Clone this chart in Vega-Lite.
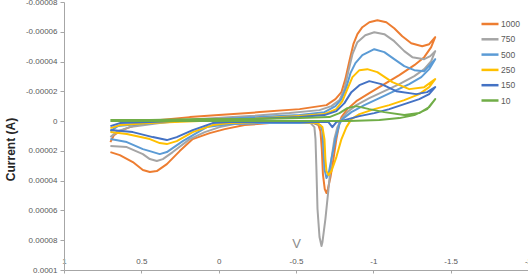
{
  "$schema": "https://vega.github.io/schema/vega-lite/v6.json",
  "width": 464,
  "height": 268,
  "autosize": {"type": "none"},
  "padding": {"left": 64, "top": 2, "right": 0, "bottom": 10},
  "background": "white",
  "config": {"view": {"stroke": null}, "font": "Liberation Sans"},
  "data": {"values": [
    {"s":"1000","i":1,"E":0.7,"I":1.409e-5},
    {"s":"1000","i":2,"E":0.677,"I":9.40e-6},
    {"s":"1000","i":3,"E":0.639,"I":6.71e-6},
    {"s":"1000","i":4,"E":0.574,"I":4.03e-6},
    {"s":"1000","i":5,"E":0.445,"I":0},
    {"s":"1000","i":6,"E":0.187,"I":-2.68e-6},
    {"s":"1000","i":7,"E":0,"I":-4.03e-6},
    {"s":"1000","i":8,"E":-0.265,"I":-6.04e-6},
    {"s":"1000","i":9,"E":-0.523,"I":-8.05e-6},
    {"s":"1000","i":10,"E":-0.697,"I":-1.074e-5},
    {"s":"1000","i":11,"E":-0.755,"I":-1.476e-5},
    {"s":"1000","i":12,"E":-0.794,"I":-1.946e-5},
    {"s":"1000","i":13,"E":-0.819,"I":-2.819e-5},
    {"s":"1000","i":14,"E":-0.845,"I":-4.027e-5},
    {"s":"1000","i":15,"E":-0.871,"I":-5.167e-5},
    {"s":"1000","i":16,"E":-0.897,"I":-5.839e-5},
    {"s":"1000","i":17,"E":-0.929,"I":-6.308e-5},
    {"s":"1000","i":18,"E":-0.974,"I":-6.644e-5},
    {"s":"1000","i":19,"E":-1.026,"I":-6.778e-5},
    {"s":"1000","i":20,"E":-1.084,"I":-6.644e-5},
    {"s":"1000","i":21,"E":-1.135,"I":-6.241e-5},
    {"s":"1000","i":22,"E":-1.187,"I":-5.704e-5},
    {"s":"1000","i":23,"E":-1.245,"I":-5.235e-5},
    {"s":"1000","i":24,"E":-1.316,"I":-5.033e-5},
    {"s":"1000","i":25,"E":-1.361,"I":-5.167e-5},
    {"s":"1000","i":26,"E":-1.4,"I":-5.637e-5},
    {"s":"1000","i":27,"E":-1.374,"I":-4.966e-5},
    {"s":"1000","i":28,"E":-1.329,"I":-4.295e-5},
    {"s":"1000","i":29,"E":-1.265,"I":-3.758e-5},
    {"s":"1000","i":30,"E":-1.168,"I":-3.087e-5},
    {"s":"1000","i":31,"E":-1.071,"I":-2.483e-5},
    {"s":"1000","i":32,"E":-0.974,"I":-1.879e-5},
    {"s":"1000","i":33,"E":-0.890,"I":-1.342e-5},
    {"s":"1000","i":34,"E":-0.832,"I":-8.05e-6},
    {"s":"1000","i":35,"E":-0.794,"I":-2.68e-6},
    {"s":"1000","i":36,"E":-0.781,"I":1.34e-6},
    {"s":"1000","i":37,"E":-0.761,"I":1.208e-5},
    {"s":"1000","i":38,"E":-0.742,"I":2.550e-5},
    {"s":"1000","i":39,"E":-0.723,"I":3.758e-5},
    {"s":"1000","i":40,"E":-0.706,"I":4.564e-5},
    {"s":"1000","i":41,"E":-0.697,"I":4.832e-5},
    {"s":"1000","i":42,"E":-0.686,"I":4.564e-5},
    {"s":"1000","i":43,"E":-0.674,"I":3.557e-5},
    {"s":"1000","i":44,"E":-0.667,"I":1.879e-5},
    {"s":"1000","i":45,"E":-0.658,"I":6.71e-6},
    {"s":"1000","i":46,"E":-0.645,"I":2.68e-6},
    {"s":"1000","i":47,"E":-0.613,"I":1.34e-6},
    {"s":"1000","i":48,"E":-0.523,"I":1.34e-6},
    {"s":"1000","i":49,"E":-0.329,"I":1.34e-6},
    {"s":"1000","i":50,"E":-0.168,"I":2.68e-6},
    {"s":"1000","i":51,"E":-0.039,"I":5.37e-6},
    {"s":"1000","i":52,"E":0.058,"I":8.05e-6},
    {"s":"1000","i":53,"E":0.168,"I":1.208e-5},
    {"s":"1000","i":54,"E":0.252,"I":2.013e-5},
    {"s":"1000","i":55,"E":0.335,"I":2.886e-5},
    {"s":"1000","i":56,"E":0.400,"I":3.356e-5},
    {"s":"1000","i":57,"E":0.445,"I":3.423e-5},
    {"s":"1000","i":58,"E":0.490,"I":3.288e-5},
    {"s":"1000","i":59,"E":0.555,"I":2.752e-5},
    {"s":"1000","i":60,"E":0.639,"I":2.282e-5},
    {"s":"1000","i":61,"E":0.7,"I":2.080e-5},

    {"s":"750","i":1,"E":0.7,"I":1.074e-5},
    {"s":"750","i":2,"E":0.652,"I":6.71e-6},
    {"s":"750","i":3,"E":0.574,"I":4.03e-6},
    {"s":"750","i":4,"E":0.381,"I":1.34e-6},
    {"s":"750","i":5,"E":0.123,"I":-1.34e-6},
    {"s":"750","i":6,"E":-0.200,"I":-3.36e-6},
    {"s":"750","i":7,"E":-0.458,"I":-5.37e-6},
    {"s":"750","i":8,"E":-0.652,"I":-7.38e-6},
    {"s":"750","i":9,"E":-0.729,"I":-1.007e-5},
    {"s":"750","i":10,"E":-0.781,"I":-1.409e-5},
    {"s":"750","i":11,"E":-0.813,"I":-2.148e-5},
    {"s":"750","i":12,"E":-0.839,"I":-3.356e-5},
    {"s":"750","i":13,"E":-0.865,"I":-4.496e-5},
    {"s":"750","i":14,"E":-0.897,"I":-5.302e-5},
    {"s":"750","i":15,"E":-0.948,"I":-5.771e-5},
    {"s":"750","i":16,"E":-1.006,"I":-5.973e-5},
    {"s":"750","i":17,"E":-1.071,"I":-5.839e-5},
    {"s":"750","i":18,"E":-1.135,"I":-5.369e-5},
    {"s":"750","i":19,"E":-1.200,"I":-4.698e-5},
    {"s":"750","i":20,"E":-1.252,"I":-4.295e-5},
    {"s":"750","i":21,"E":-1.329,"I":-4.161e-5},
    {"s":"750","i":22,"E":-1.368,"I":-4.362e-5},
    {"s":"750","i":23,"E":-1.4,"I":-4.698e-5},
    {"s":"750","i":24,"E":-1.374,"I":-4.027e-5},
    {"s":"750","i":25,"E":-1.329,"I":-3.490e-5},
    {"s":"750","i":26,"E":-1.265,"I":-3.020e-5},
    {"s":"750","i":27,"E":-1.168,"I":-2.483e-5},
    {"s":"750","i":28,"E":-1.071,"I":-2.013e-5},
    {"s":"750","i":29,"E":-0.974,"I":-1.544e-5},
    {"s":"750","i":30,"E":-0.890,"I":-1.074e-5},
    {"s":"750","i":31,"E":-0.832,"I":-6.04e-6},
    {"s":"750","i":32,"E":-0.794,"I":-1.34e-6},
    {"s":"750","i":33,"E":-0.768,"I":4.03e-6},
    {"s":"750","i":34,"E":-0.748,"I":1.208e-5},
    {"s":"750","i":35,"E":-0.729,"I":2.550e-5},
    {"s":"750","i":36,"E":-0.710,"I":4.564e-5},
    {"s":"750","i":37,"E":-0.690,"I":6.577e-5},
    {"s":"750","i":38,"E":-0.671,"I":8.120e-5},
    {"s":"750","i":39,"E":-0.665,"I":8.389e-5},
    {"s":"750","i":40,"E":-0.652,"I":7.785e-5},
    {"s":"750","i":41,"E":-0.639,"I":5.906e-5},
    {"s":"750","i":42,"E":-0.632,"I":3.221e-5},
    {"s":"750","i":43,"E":-0.626,"I":1.208e-5},
    {"s":"750","i":44,"E":-0.619,"I":4.03e-6},
    {"s":"750","i":45,"E":-0.594,"I":1.34e-6},
    {"s":"750","i":46,"E":-0.458,"I":1.34e-6},
    {"s":"750","i":47,"E":-0.265,"I":1.34e-6},
    {"s":"750","i":48,"E":-0.103,"I":2.01e-6},
    {"s":"750","i":49,"E":-0.006,"I":4.03e-6},
    {"s":"750","i":50,"E":0.090,"I":7.38e-6},
    {"s":"750","i":51,"E":0.187,"I":1.208e-5},
    {"s":"750","i":52,"E":0.297,"I":2.080e-5},
    {"s":"750","i":53,"E":0.361,"I":2.550e-5},
    {"s":"750","i":54,"E":0.400,"I":2.684e-5},
    {"s":"750","i":55,"E":0.445,"I":2.550e-5},
    {"s":"750","i":56,"E":0.490,"I":2.215e-5},
    {"s":"750","i":57,"E":0.594,"I":1.745e-5},
    {"s":"750","i":58,"E":0.7,"I":1.678e-5},

    {"s":"500","i":1,"E":0.7,"I":6.71e-6},
    {"s":"500","i":2,"E":0.652,"I":3.36e-6},
    {"s":"500","i":3,"E":0.510,"I":2.01e-6},
    {"s":"500","i":4,"E":0.252,"I":0},
    {"s":"500","i":5,"E":-0.006,"I":-1.34e-6},
    {"s":"500","i":6,"E":-0.265,"I":-2.68e-6},
    {"s":"500","i":7,"E":-0.523,"I":-4.03e-6},
    {"s":"500","i":8,"E":-0.684,"I":-6.04e-6},
    {"s":"500","i":9,"E":-0.755,"I":-1.007e-5},
    {"s":"500","i":10,"E":-0.794,"I":-1.476e-5},
    {"s":"500","i":11,"E":-0.826,"I":-2.282e-5},
    {"s":"500","i":12,"E":-0.852,"I":-3.221e-5},
    {"s":"500","i":13,"E":-0.884,"I":-3.892e-5},
    {"s":"500","i":14,"E":-0.929,"I":-4.429e-5},
    {"s":"500","i":15,"E":-1.006,"I":-4.832e-5},
    {"s":"500","i":16,"E":-1.071,"I":-4.631e-5},
    {"s":"500","i":17,"E":-1.135,"I":-4.161e-5},
    {"s":"500","i":18,"E":-1.200,"I":-3.691e-5},
    {"s":"500","i":19,"E":-1.265,"I":-3.423e-5},
    {"s":"500","i":20,"E":-1.329,"I":-3.356e-5},
    {"s":"500","i":21,"E":-1.4,"I":-4.161e-5},
    {"s":"500","i":22,"E":-1.361,"I":-3.490e-5},
    {"s":"500","i":23,"E":-1.310,"I":-2.953e-5},
    {"s":"500","i":24,"E":-1.232,"I":-2.483e-5},
    {"s":"500","i":25,"E":-1.135,"I":-2.013e-5},
    {"s":"500","i":26,"E":-1.039,"I":-1.544e-5},
    {"s":"500","i":27,"E":-0.942,"I":-1.074e-5},
    {"s":"500","i":28,"E":-0.858,"I":-6.04e-6},
    {"s":"500","i":29,"E":-0.800,"I":-1.34e-6},
    {"s":"500","i":30,"E":-0.781,"I":2.01e-6},
    {"s":"500","i":31,"E":-0.755,"I":1.208e-5},
    {"s":"500","i":32,"E":-0.729,"I":2.550e-5},
    {"s":"500","i":33,"E":-0.710,"I":3.557e-5},
    {"s":"500","i":34,"E":-0.697,"I":3.825e-5},
    {"s":"500","i":35,"E":-0.684,"I":3.221e-5},
    {"s":"500","i":36,"E":-0.677,"I":1.879e-5},
    {"s":"500","i":37,"E":-0.671,"I":6.71e-6},
    {"s":"500","i":38,"E":-0.658,"I":2.68e-6},
    {"s":"500","i":39,"E":-0.619,"I":1.34e-6},
    {"s":"500","i":40,"E":-0.523,"I":1.34e-6},
    {"s":"500","i":41,"E":-0.265,"I":1.34e-6},
    {"s":"500","i":42,"E":-0.071,"I":2.01e-6},
    {"s":"500","i":43,"E":0.077,"I":4.03e-6},
    {"s":"500","i":44,"E":0.155,"I":8.72e-6},
    {"s":"500","i":45,"E":0.232,"I":1.342e-5},
    {"s":"500","i":46,"E":0.335,"I":2.080e-5},
    {"s":"500","i":47,"E":0.381,"I":2.215e-5},
    {"s":"500","i":48,"E":0.445,"I":2.013e-5},
    {"s":"500","i":49,"E":0.490,"I":1.879e-5},
    {"s":"500","i":50,"E":0.594,"I":1.409e-5},
    {"s":"500","i":51,"E":0.7,"I":1.208e-5},

    {"s":"250","i":1,"E":0.7,"I":4.70e-6},
    {"s":"250","i":2,"E":0.639,"I":2.68e-6},
    {"s":"250","i":3,"E":0.445,"I":1.34e-6},
    {"s":"250","i":4,"E":0.123,"I":0},
    {"s":"250","i":5,"E":-0.200,"I":-1.34e-6},
    {"s":"250","i":6,"E":-0.523,"I":-3.36e-6},
    {"s":"250","i":7,"E":-0.684,"I":-4.70e-6},
    {"s":"250","i":8,"E":-0.761,"I":-8.05e-6},
    {"s":"250","i":9,"E":-0.800,"I":-1.342e-5},
    {"s":"250","i":10,"E":-0.832,"I":-2.148e-5},
    {"s":"250","i":11,"E":-0.865,"I":-2.953e-5},
    {"s":"250","i":12,"E":-0.910,"I":-3.423e-5},
    {"s":"250","i":13,"E":-0.961,"I":-3.490e-5},
    {"s":"250","i":14,"E":-1.026,"I":-3.288e-5},
    {"s":"250","i":15,"E":-1.123,"I":-2.617e-5},
    {"s":"250","i":16,"E":-1.232,"I":-2.148e-5},
    {"s":"250","i":17,"E":-1.329,"I":-2.282e-5},
    {"s":"250","i":18,"E":-1.4,"I":-2.819e-5},
    {"s":"250","i":19,"E":-1.361,"I":-2.282e-5},
    {"s":"250","i":20,"E":-1.297,"I":-1.812e-5},
    {"s":"250","i":21,"E":-1.200,"I":-1.409e-5},
    {"s":"250","i":22,"E":-1.103,"I":-1.074e-5},
    {"s":"250","i":23,"E":-1.006,"I":-8.05e-6},
    {"s":"250","i":24,"E":-0.910,"I":-4.70e-6},
    {"s":"250","i":25,"E":-0.858,"I":-1.34e-6},
    {"s":"250","i":26,"E":-0.826,"I":4.03e-6},
    {"s":"250","i":27,"E":-0.794,"I":1.208e-5},
    {"s":"250","i":28,"E":-0.761,"I":2.416e-5},
    {"s":"250","i":29,"E":-0.729,"I":3.356e-5},
    {"s":"250","i":30,"E":-0.710,"I":3.624e-5},
    {"s":"250","i":31,"E":-0.697,"I":3.356e-5},
    {"s":"250","i":32,"E":-0.690,"I":2.550e-5},
    {"s":"250","i":33,"E":-0.684,"I":1.208e-5},
    {"s":"250","i":34,"E":-0.671,"I":4.03e-6},
    {"s":"250","i":35,"E":-0.639,"I":1.34e-6},
    {"s":"250","i":36,"E":-0.523,"I":6.7e-7},
    {"s":"250","i":37,"E":-0.265,"I":6.7e-7},
    {"s":"250","i":38,"E":-0.071,"I":1.34e-6},
    {"s":"250","i":39,"E":0.039,"I":2.68e-6},
    {"s":"250","i":40,"E":0.168,"I":7.38e-6},
    {"s":"250","i":41,"E":0.271,"I":1.342e-5},
    {"s":"250","i":42,"E":0.335,"I":1.544e-5},
    {"s":"250","i":43,"E":0.381,"I":1.476e-5},
    {"s":"250","i":44,"E":0.445,"I":1.208e-5},
    {"s":"250","i":45,"E":0.594,"I":8.72e-6},
    {"s":"250","i":46,"E":0.7,"I":7.38e-6},

    {"s":"150","i":1,"E":0.7,"I":3.36e-6},
    {"s":"150","i":2,"E":0.639,"I":1.34e-6},
    {"s":"150","i":3,"E":0.445,"I":6.7e-7},
    {"s":"150","i":4,"E":0.123,"I":-6.7e-7},
    {"s":"150","i":5,"E":-0.200,"I":-1.34e-6},
    {"s":"150","i":6,"E":-0.523,"I":-2.68e-6},
    {"s":"150","i":7,"E":-0.684,"I":-4.03e-6},
    {"s":"150","i":8,"E":-0.761,"I":-6.71e-6},
    {"s":"150","i":9,"E":-0.813,"I":-1.208e-5},
    {"s":"150","i":10,"E":-0.858,"I":-1.946e-5},
    {"s":"150","i":11,"E":-0.910,"I":-2.416e-5},
    {"s":"150","i":12,"E":-0.974,"I":-2.684e-5},
    {"s":"150","i":13,"E":-1.052,"I":-2.483e-5},
    {"s":"150","i":14,"E":-1.148,"I":-2.013e-5},
    {"s":"150","i":15,"E":-1.277,"I":-1.812e-5},
    {"s":"150","i":16,"E":-1.348,"I":-1.946e-5},
    {"s":"150","i":17,"E":-1.4,"I":-2.282e-5},
    {"s":"150","i":18,"E":-1.361,"I":-1.812e-5},
    {"s":"150","i":19,"E":-1.297,"I":-1.476e-5},
    {"s":"150","i":20,"E":-1.200,"I":-1.141e-5},
    {"s":"150","i":21,"E":-1.103,"I":-8.05e-6},
    {"s":"150","i":22,"E":-1.006,"I":-5.37e-6},
    {"s":"150","i":23,"E":-0.910,"I":-3.36e-6},
    {"s":"150","i":24,"E":-0.813,"I":-6.7e-7},
    {"s":"150","i":25,"E":-0.761,"I":6.7e-7},
    {"s":"150","i":26,"E":-0.735,"I":4.03e-6},
    {"s":"150","i":27,"E":-0.710,"I":6.7e-7},
    {"s":"150","i":28,"E":-0.587,"I":6.7e-7},
    {"s":"150","i":29,"E":-0.265,"I":6.7e-7},
    {"s":"150","i":30,"E":-0.071,"I":6.7e-7},
    {"s":"150","i":31,"E":0.039,"I":1.34e-6},
    {"s":"150","i":32,"E":0.168,"I":6.04e-6},
    {"s":"150","i":33,"E":0.271,"I":1.074e-5},
    {"s":"150","i":34,"E":0.335,"I":1.275e-5},
    {"s":"150","i":35,"E":0.426,"I":1.074e-5},
    {"s":"150","i":36,"E":0.555,"I":7.38e-6},
    {"s":"150","i":37,"E":0.7,"I":6.04e-6},

    {"s":"10","i":1,"E":0.7,"I":-6.7e-7},
    {"s":"10","i":2,"E":0.445,"I":-6.7e-7},
    {"s":"10","i":3,"E":0.123,"I":-1.34e-6},
    {"s":"10","i":4,"E":-0.200,"I":-1.34e-6},
    {"s":"10","i":5,"E":-0.523,"I":-2.01e-6},
    {"s":"10","i":6,"E":-0.716,"I":-2.68e-6},
    {"s":"10","i":7,"E":-0.781,"I":-5.37e-6},
    {"s":"10","i":8,"E":-0.832,"I":-8.72e-6},
    {"s":"10","i":9,"E":-0.890,"I":-1.007e-5},
    {"s":"10","i":10,"E":-0.974,"I":-8.05e-6},
    {"s":"10","i":11,"E":-1.071,"I":-6.04e-6},
    {"s":"10","i":12,"E":-1.200,"I":-4.03e-6},
    {"s":"10","i":13,"E":-1.297,"I":-5.37e-6},
    {"s":"10","i":14,"E":-1.361,"I":-9.40e-6},
    {"s":"10","i":15,"E":-1.4,"I":-1.476e-5},
    {"s":"10","i":16,"E":-1.348,"I":-8.05e-6},
    {"s":"10","i":17,"E":-1.265,"I":-4.03e-6},
    {"s":"10","i":18,"E":-1.168,"I":-2.01e-6},
    {"s":"10","i":19,"E":-1.039,"I":-6.7e-7},
    {"s":"10","i":20,"E":-0.845,"I":0},
    {"s":"10","i":21,"E":-0.652,"I":0},
    {"s":"10","i":22,"E":-0.200,"I":0},
    {"s":"10","i":23,"E":0.445,"I":0},
    {"s":"10","i":24,"E":0.7,"I":0}
  ]},
  "mark": {"type": "line", "strokeWidth": 2, "interpolate": "linear", "strokeJoin": "round", "clip": true},
  "encoding": {
    "x": {
      "field": "E", "type": "quantitative",
      "scale": {"domain": [-2, 1], "reverse": true, "nice": false, "zero": false},
      "axis": {
        "values": [1, 0.5, 0, -0.5, -1, -1.5, -2],
        "labelExpr": "datum.value == 0 ? '0' : (datum.value < 0 ? '-' : '') + format(abs(datum.value), '~f')",
        "grid": false, "domainColor": "#a6a6a6", "tickColor": "#a6a6a6", "tickSize": 3,
        "labelFontSize": 8, "labelColor": "#595959", "labelFlush": false, "labelOverlap": false,
        "labelBaseline": "middle", "labelPadding": -12,
        "title": "V", "titleFontSize": 13, "titleFontWeight": "normal", "titleColor": "#8c8c8c",
        "titlePadding": -36,
        "encode": {"title": {"update": {"dx": {"value": 26}}}}
      }
    },
    "y": {
      "field": "I", "type": "quantitative",
      "scale": {"domain": [-0.00008, 0.0001], "reverse": true, "nice": false, "zero": false},
      "axis": {
        "values": [-0.00008, -0.00006, -0.00004, -0.00002, 0, 0.00002, 0.00004, 0.00006, 0.00008, 0.0001],
        "labelExpr": "datum.value == 0 ? '0' : (datum.value < 0 ? '-' : '') + format(abs(datum.value), '~f')",
        "grid": false, "domainColor": "#a6a6a6", "tickColor": "#a6a6a6", "tickSize": 4,
        "labelFontSize": 8, "labelColor": "#595959", "labelPadding": 3, "labelOverlap": false,
        "title": "Current (A)", "titleFontSize": 12, "titleFontWeight": "bold", "titleColor": "#262626",
        "titleX": -54, "titleY": 147, "titleAngle": -90, "titleBaseline": "middle", "titleAlign": "center"
      }
    },
    "color": {
      "field": "s", "type": "nominal",
      "scale": {"domain": ["1000", "750", "500", "250", "150", "10"],
                "range": ["#ED7D31", "#A5A5A5", "#5B9BD5", "#FFC000", "#4472C4", "#70AD47"]},
      "legend": {
        "orient": "none", "legendX": 416, "legendY": 12, "title": null,
        "symbolType": "stroke", "symbolSize": 289, "symbolStrokeWidth": 2.5,
        "labelFontSize": 8.5, "labelColor": "#595959", "labelOffset": 1,
        "rowPadding": 0.3, "padding": 0
      }
    },
    "order": {"field": "i", "type": "quantitative"}
  }
}
